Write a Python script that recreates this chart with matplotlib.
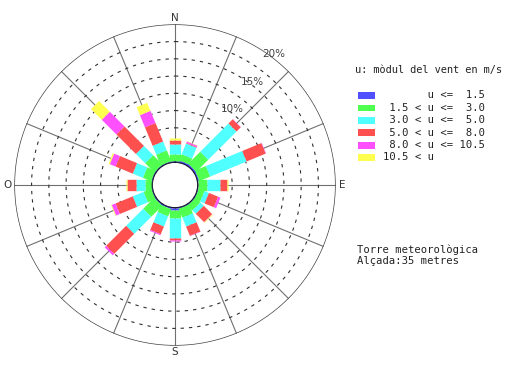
import numpy as np
import matplotlib
matplotlib.use('Agg')
import matplotlib.pyplot as plt
from matplotlib.patches import Rectangle

# wind directions, clockwise from north
directions = ['N', 'NNE', 'NE', 'ENE', 'E', 'ESE', 'SE', 'SSE',
              'S', 'SSW', 'SW', 'WSW', 'W', 'WNW', 'NW', 'NNW']

# frequency (%) of each speed class per direction
speed_lt_1_5 = [0.2, 0.25, 0.25, 0.2, 0.1, 0.1, 0.1, 0.1, 0.3, 0.15, 0.15, 0.1, 0.1, 0.1, 0.1, 0.1]
speed_1_5_3 = [1.0, 0.95, 2.45, 1.7, 1.2, 0.9, 1.0, 1.4, 1.2, 1.15, 2.25, 1.2, 0.95, 1.3, 1.9, 1.7]
speed_3_5 = [1.4, 1.7, 5.8, 5.7, 1.9, 0.7, 0.7, 1.4, 2.9, 1.6, 3.5, 1.7, 1.35, 1.6, 1.9, 1.4]
speed_5_8 = [0.6, 0.1, 0.85, 3.0, 1.1, 1.45, 1.7, 1.45, 0.35, 1.2, 4.1, 2.7, 1.25, 2.7, 4.0, 2.9]
speed_8_10_5 = [0.1, 0.2, 0.05, 0.05, 0.0, 0.35, 0.05, 0.05, 0.1, 0.15, 0.3, 0.6, 0.0, 0.9, 3.0, 1.9]
speed_gt_10_5 = [0.15, 0.05, 0.0, 0.0, 0.05, 0.0, 0.1, 0.0, 0.0, 0.0, 0.0, 0.1, 0.1, 0.2, 2.2, 1.25]

class_labels = ['       u <=  1.5',
                ' 1.5 < u <=  3.0',
                ' 3.0 < u <=  5.0',
                ' 5.0 < u <=  8.0',
                ' 8.0 < u <= 10.5',
                '10.5 < u']
colors = ['#5050ff', '#50ff50', '#50ffff', '#ff5050', '#ff50ff', '#ffff50']

ring_values = [5, 7.5, 10, 12.5, 15, 17.5]
ring_labels = ['10%', '15%', '20%']
ring_label_values = [10, 15, 20]

compass = ['N', 'E', 'S', 'O']

W, H = 510, 383
fig = plt.figure(figsize=(W / 100, H / 100), dpi=100)

# polar axes placed so that centre and radius match the original
cx, cy, R = 175, 185, 160.7
ax = fig.add_axes([(cx - R) / W, (H - cy - R) / H, 2 * R / W, 2 * R / H],
                  projection='polar')
ax.set_theta_zero_location('N')
ax.set_theta_direction(-1)
ax.set_rorigin(-3.29)
ax.set_ylim(0, 20)
ax.set_xticks([])
ax.set_yticks([])
ax.grid(False)
ax.spines['polar'].set_visible(False)

full = np.linspace(0, 2 * np.pi, 400)
theta = np.deg2rad(np.arange(16) * 22.5)

# spokes
for th in theta:
    ax.plot([th, th], [0, 20], color='#707070', lw=0.8, zorder=1)

# dashed rings and outer circle
for rv in ring_values:
    ax.plot(full, np.full_like(full, rv), color='#303030', lw=0.8,
            linestyle=(0, (3, 4.5)), zorder=1)
ax.plot(full, np.full_like(full, 20), color='#404040', lw=1.0, zorder=1)

# stacked bars as thick radial lines
classes = [speed_lt_1_5, speed_1_5_3, speed_3_5, speed_5_8, speed_8_10_5, speed_gt_10_5]
bottom = np.zeros(len(directions))
for vals, col in zip(classes, colors):
    vals = np.array(vals)
    for th, b, v in zip(theta, bottom, vals):
        if v > 0:
            ax.plot([th, th], [b, b + v], color=col, lw=8.2,
                    solid_capstyle='butt', zorder=3)
    bottom = bottom + vals

# calm circle
ax.plot(full, np.zeros_like(full), color='#20205a', lw=1.0, zorder=4)

# ring labels
for lab, rv in zip(ring_labels, ring_label_values):
    ax.text(np.deg2rad(37), rv + 0.45, lab, ha='center', va='center',
            fontsize=7.5, color='#404040', zorder=5)

# compass labels
compass_xy = [(175, 18), (342, 185), (175, 352), (8, 185)]
for lab, (x, y) in zip(compass, compass_xy):
    fig.text(x / W, 1 - y / H, lab, ha='center', va='center',
             fontsize=7.5, color='#333333')

# legend
mono = 'DejaVu Sans Mono'
fig.text(355 / W, 1 - 70 / H, 'u: mòdul del vent en m/s', family=mono,
         fontsize=7.4, color='#222222', va='center', ha='left')
for i, (lab, col) in enumerate(zip(class_labels, colors)):
    yc = 95.5 + i * 12.4
    fig.patches.append(Rectangle((358.3 / W, 1 - (yc + 3.4) / H), 16.7 / W, 6.8 / H,
                                 transform=fig.transFigure, facecolor=col,
                                 edgecolor='none'))
    fig.text(383.3 / W, 1 - yc / H, lab, family=mono, fontsize=7.6,
             color='#222222', va='center', ha='left')

fig.text(357 / W, 1 - 250 / H, 'Torre meteorològica', family=mono,
         fontsize=7.6, color='#222222', va='center', ha='left')
fig.text(357 / W, 1 - 261 / H, 'Alçada:35 metres', family=mono,
         fontsize=7.6, color='#222222', va='center', ha='left')

fig.savefig('out.png', dpi=100)
